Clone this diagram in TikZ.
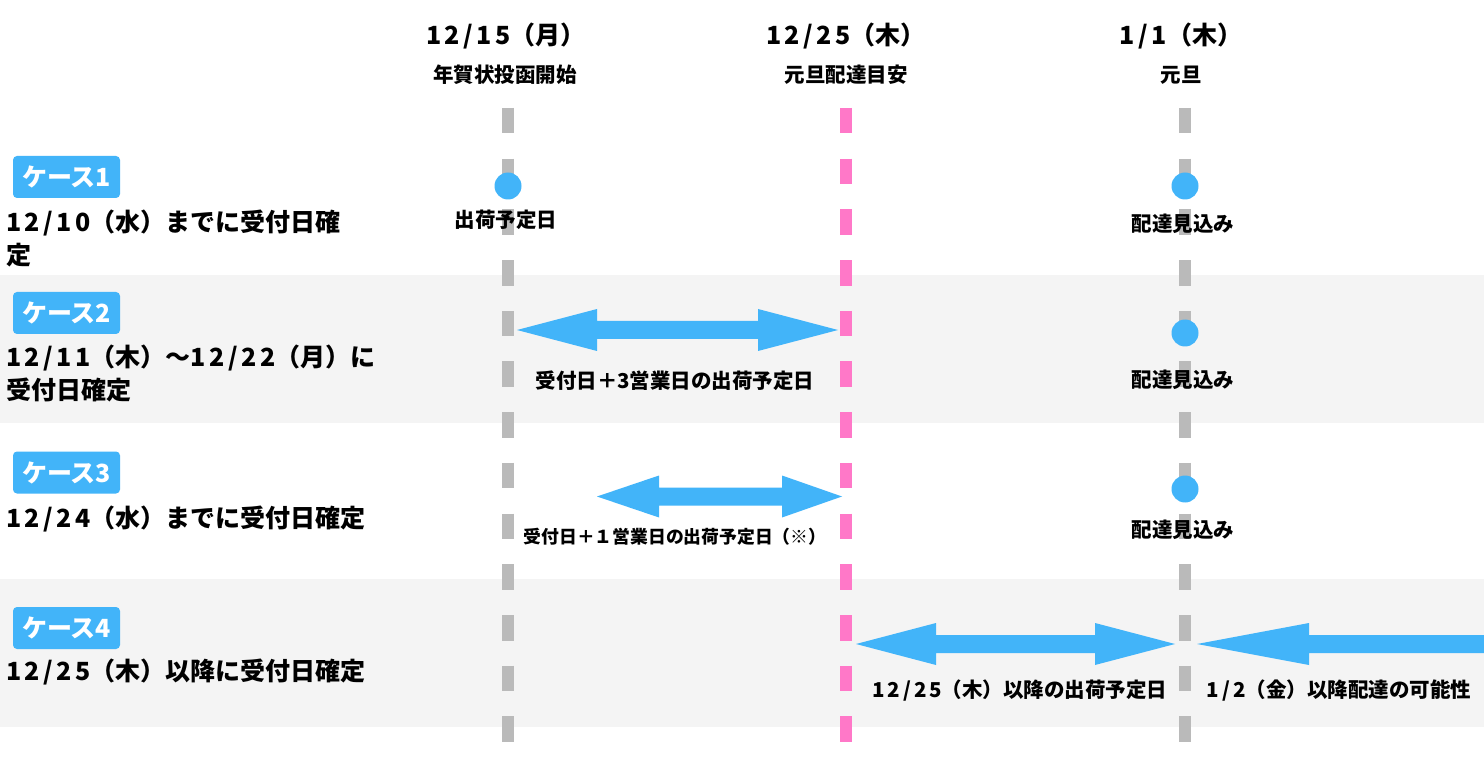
\documentclass[tikz,border=0pt]{standalone}
\usepackage{fontspec}
\setmainfont{Noto Sans CJK JP}
\usetikzlibrary{calc}
\definecolor{cblue}{HTML}{42B4F9}
\definecolor{cpink}{HTML}{FF78C8}
\definecolor{cgray}{HTML}{BABABA}
\definecolor{cband}{HTML}{F4F4F4}
\newcommand\dg[1]{{\addfontfeature{LetterSpace=14}#1}}
\newcommand\dblarr[4]{%
  \fill[cblue] (#1) -- ++(#3,-21) -- ++(0,12) -- ($(#2)+(-#4,-9)$) -- ++(0,-12) -- (#2)
    -- ++(-#4,21) -- ++(0,-12) -- ($(#1)+(#3,9)$) -- ++(0,12) -- cycle;}
\begin{document}
\begin{tikzpicture}[x=1pt,y=-1pt,
  casebox/.style={fill=cblue,rounded corners=4pt,text=white,inner sep=0pt,
    minimum width=107pt,minimum height=42pt,font=\bfseries\fontsize{25}{25}\selectfont},
  casetext/.style={anchor=west,align=left,inner sep=0pt,font=\bfseries\fontsize{25}{33}\selectfont},
  head/.style={inner sep=0pt,font=\bfseries\fontsize{25}{25}\selectfont},
  sub/.style={inner sep=0pt,font=\bfseries\fontsize{20.5}{20.5}\selectfont},
  lbl/.style={inner sep=0pt,font=\bfseries\fontsize{20.5}{20.5}\selectfont},
  dot/.style={circle,fill=cblue,minimum size=27pt,inner sep=0pt},
  tline/.style={line width=12pt,dash pattern=on 25.5pt off 25.2pt}]
\useasboundingbox (0,0) rectangle (1484,767);
\fill[white] (0,0) rectangle (1484,767);
% bands
\fill[cband] (0,275) rectangle (1484,423);
\fill[cband] (0,579) rectangle (1484,727);
% timelines
\coordinate (g1t) at (508,108); \coordinate (g1b) at (508,742);
\coordinate (pkt) at (846,108); \coordinate (pkb) at (846,742);
\coordinate (g2t) at (1185,108); \coordinate (g2b) at (1185,742);
\draw[tline,cgray] (g1t) -- (g1b);
\draw[tline,cpink] (pkt) -- (pkb);
\draw[tline,cgray] (g2t) -- (g2b);
% headings
\node[head] (h1) at (506,36) {\dg{12/15}（月）};
\node[sub]  (s1) at (505,75) {年賀状投函開始};
\node[head] (h2) at (846,36) {\dg{12/25}（木）};
\node[sub]  (s2) at (846,75) {元旦配達目安};
\node[head] (h3) at (1181,36) {\dg{1/1}（木）};
\node[sub]  (s3) at (1181,75) {元旦};
% case labels
\node[casebox] (c1) at (66.5,177) {ケース1};
\node[casebox] (c2) at (66.5,313) {ケース2};
\node[casebox] (c3) at (66.5,472.5) {ケース3};
\node[casebox] (c4) at (66.5,628) {ケース4};
\node[casetext] (t1) at (6,238.5) {\dg{12/10}（水）までに受付日確\\定};
\node[casetext] (t2) at (6,373.5) {\dg{12/11}（木）～\dg{12/22}（月）に\\受付日確定};
\node[casetext] (t3) at (6,519) {\dg{12/24}（水）までに受付日確定};
\node[casetext] (t4) at (6,672) {\dg{12/25}（木）以降に受付日確定};
% case 1
\node[dot] (d1) at (508,186) {};
\node[dot] (d2) at (1185,186) {};
\node[lbl] (l1) at (506,220) {出荷予定日};
\node[lbl] (l2) at (1183,224) {配達見込み};
% case 2
\coordinate (a2l) at (517,330); \coordinate (a2r) at (838,330);
\dblarr{a2l}{a2r}{80}{80}
\node[lbl] (l3) at (675,381) {受付日＋3営業日の出荷予定日};
\node[dot] (d3) at (1185,333) {};
\node[lbl] (l4) at (1183,380) {配達見込み};
% case 3
\coordinate (a3l) at (597,496.5); \coordinate (a3r) at (842,496.5);
\dblarr{a3l}{a3r}{62}{60}
\node[inner sep=0pt,font=\bfseries\fontsize{17.8}{17.8}\selectfont] (l5) at (675,537) {受付日＋１営業日の出荷予定日（※）};
\node[dot] (d4) at (1185,489) {};
\node[lbl] (l6) at (1183,530) {配達見込み};
% case 4
\coordinate (a4l) at (856,644); \coordinate (a4r) at (1175,644);
\dblarr{a4l}{a4r}{80}{80}
\coordinate (a5l) at (1197,644); \coordinate (a5r) at (1490,644);
\fill[cblue] (a5l) -- ++(112,-21) -- ++(0,12) -- ($(a5r)+(0,-9)$) -- ($(a5r)+(0,9)$) -- ($(a5l)+(112,9)$) -- ++(0,12) -- cycle;
\node[lbl] (l7) at (1020,691) {\dg{12/25}（木）以降の出荷予定日};
\node[lbl] (l8) at (1339,691) {\dg{1/2}（金）以降配達の可能性};
\end{tikzpicture}
\end{document}
